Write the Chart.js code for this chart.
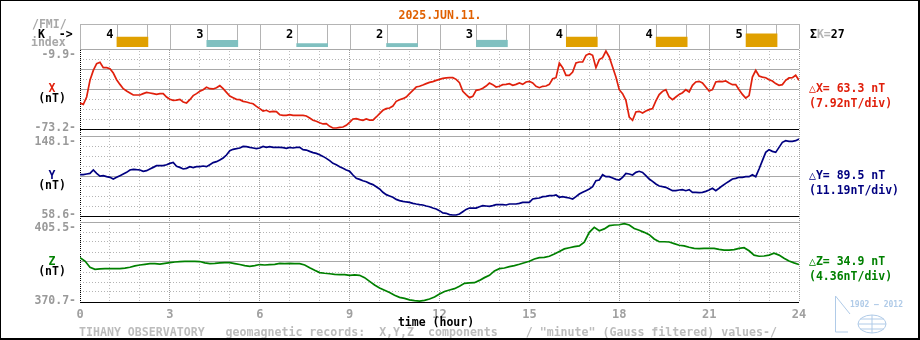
<!DOCTYPE html>
<html>
<head>
<meta charset="utf-8">
<script src="https://cdn.jsdelivr.net/npm/chart.js@4.4.1/dist/chart.umd.min.js"></script>
<style>
html,body{margin:0;padding:0;background:#fff;}
canvas{display:block;}
</style>
</head>
<body>
<canvas id="c" width="920" height="340"></canvas>
<script>
// ---------------- data ----------------
const DATE_TITLE = '2025.JUN.11.';
const K_INDEX = [4, 3, 2, 2, 3, 4, 4, 5];
const K_START_HOURS = [0, 3, 6, 9, 12, 15, 18, 21];
const HOUR_TICKS = [0, 3, 6, 9, 12, 15, 18, 21, 24];

const X_RANGE = [-73.2, -9.9];
const Y_RANGE = [58.6, 148.1];
const Z_RANGE = [370.7, 405.5];

const X_VALUES = [
-52.6,-53.7,-47.9,-34.7,-26.8,-21.5,-20.4,-24.7,-24.7,-25.5,
-28.9,-34.2,-37.9,-41.3,-43.1,-44.7,-46.3,-46.3,-46.3,-45.2,
-44.2,-44.7,-45.2,-45.8,-45.2,-45.2,-47.9,-49.7,-50.5,-50.3,
-49.7,-51.8,-52.6,-50.0,-46.8,-45.2,-43.4,-42.1,-40.2,-41.3,
-41.5,-40.5,-38.9,-41.3,-44.2,-47.1,-48.4,-49.7,-50.0,-51.3,
-51.8,-52.6,-53.2,-55.3,-57.1,-59.0,-58.4,-59.7,-59.2,-59.5,
-61.9,-62.4,-62.4,-61.9,-62.4,-62.4,-62.4,-62.4,-62.9,-64.5,
-66.3,-67.1,-68.2,-69.2,-69.0,-71.1,-72.4,-72.4,-71.9,-71.6,
-70.3,-67.9,-65.3,-65.0,-65.8,-66.3,-65.3,-66.1,-66.1,-63.7,
-61.1,-58.4,-57.1,-56.6,-55.0,-51.3,-50.0,-49.2,-47.9,-45.2,
-42.6,-40.0,-39.4,-38.4,-37.3,-36.3,-35.7,-34.7,-33.9,
-33.1,-32.8,-32.6,-32.6,-33.9,-36.5,-43.4,-46.0,-48.4,-47.4,
-42.6,-42.1,-41.0,-39.2,-36.8,-38.1,-40.0,-39.4,-38.1,-37.9,
-37.3,-38.6,-37.9,-36.8,-37.9,-36.0,-35.5,-36.8,-39.4,-40.5,
-39.4,-39.2,-37.9,-33.4,-32.6,-21.0,-24.7,-30.7,-30.7,-28.1,
-21.0,-20.2,-20.2,-14.9,-13.6,-14.9,-24.7,-18.3,-16.8,-11.5,
-16.2,-24.1,-32.1,-42.1,-45.2,-50.5,-63.7,-66.3,-59.7,-59.2,
-60.5,-59.0,-57.9,-57.1,-51.0,-46.0,-43.4,-42.1,-47.9,-50.0,
-47.9,-45.8,-44.5,-42.1,-43.9,-38.6,-36.0,-35.5,-36.8,-40.0,
-43.1,-42.1,-36.0,-35.5,-35.7,-35.2,-36.8,-38.1,-38.1,-42.1,
-45.8,-48.7,-46.8,-32.1,-26.8,-31.3,-32.1,-32.6,-34.2,-35.2,
-37.3,-38.6,-38.1,-34.7,-32.8,-32.6,-30.7,-34.7
];

const Y_VALUES = [
104.8,104.8,105.6,106.3,110.1,106.3,103.3,103.7,102.6,101.9,
100.0,101.9,103.7,105.6,107.4,110.1,110.8,110.4,110.1,108.6,
109.3,111.2,113.0,114.9,114.9,114.9,116.0,117.5,118.6,114.2,
113.0,111.2,111.9,113.8,112.7,113.8,113.8,114.5,113.8,116.0,
118.3,119.4,121.2,123.5,126.8,131.7,133.2,133.9,134.7,136.5,
136.2,135.4,134.7,133.9,134.7,136.5,135.4,136.2,135.4,135.4,
135.4,135.0,134.3,135.4,134.7,135.4,135.4,132.8,132.4,130.9,
129.5,128.7,127.2,125.3,123.1,120.5,117.5,116.0,113.8,111.9,
110.1,108.6,104.5,100.7,99.6,98.1,97.0,95.1,93.7,91.4,
88.8,85.1,82.5,81.0,79.5,77.2,75.8,75.0,74.3,73.9,
72.8,72.0,71.3,70.9,69.8,69.0,67.5,66.4,64.6,
62.0,61.6,60.1,59.7,59.7,60.8,63.4,66.0,67.5,67.5,
67.5,69.0,70.2,69.8,69.4,70.2,71.3,71.3,71.3,70.9,
72.0,72.0,72.0,72.8,73.9,73.9,73.9,77.6,78.4,78.7,
80.2,80.6,81.3,81.3,82.1,79.5,80.2,79.5,78.7,77.6,
80.2,83.2,85.1,86.9,88.8,91.4,98.1,98.9,104.8,102.6,
102.6,101.1,99.6,98.9,101.9,106.3,105.6,104.5,107.4,108.6,
107.4,103.7,100.0,97.4,94.4,92.2,91.4,90.7,88.8,86.9,
86.9,87.7,88.1,86.9,88.1,85.1,85.1,84.7,85.1,86.2,
87.7,89.6,86.9,89.6,92.5,95.1,97.4,100.0,100.7,101.9,
101.9,102.6,102.6,104.8,102.6,111.2,120.5,129.8,132.8,130.9,
129.8,135.4,141.0,142.9,142.1,142.1,142.9,144.7
];

const Z_VALUES = [
390.0,388.5,385.8,384.9,385.1,385.2,385.2,385.2,385.2,385.4,
385.8,386.4,386.8,387.1,387.4,387.4,387.2,387.5,387.8,388.1,
388.3,388.4,388.4,388.4,388.3,387.7,387.4,387.5,387.7,387.8,
387.8,387.4,387.0,386.5,386.2,386.5,387.0,386.8,387.0,387.1,
387.5,387.4,387.5,387.4,387.4,386.8,385.6,384.5,383.5,383.2,
383.0,382.7,382.6,382.6,382.3,382.5,382.3,381.3,379.7,378.1,
376.8,375.8,374.8,373.6,372.7,372.3,371.6,371.3,371.1,371.4,
372.0,372.9,374.2,375.3,375.9,376.5,377.6,378.8,379.0,379.1,
380.1,381.3,382.3,384.2,385.2,385.5,386.1,386.5,387.1,387.8,
388.4,389.4,390.0,390.1,390.6,391.6,392.7,393.8,394.3,394.8,
395.1,396.7,401.0,403.2,401.7,402.5,403.9,404.2,404.3,404.8,
404.2,402.7,401.9,401.0,400.0,398.1,396.9,396.9,396.8,396.1,
395.4,395.1,394.5,394.0,393.9,394.0,394.0,394.0,393.6,393.3,
393.3,393.5,394.0,394.3,393.0,391.1,390.6,390.7,391.1,391.9,
391.1,389.7,388.5,387.7,387.0
];

// sampling times (hours) of the series
const XY_HOURS = X_VALUES.map((_, i) => i / 9);
const Z_HOURS = Z_VALUES.map((_, i) => i / 6);

const PANEL_LETTERS = ['X', 'Y', 'Z'];
const PANEL_DELTA = ['\u25b3X= 63.3 nT', '\u25b3Y= 89.5 nT', '\u25b3Z= 34.9 nT'];
const PANEL_DIV = ['(7.92nT/div)', '(11.19nT/div)', '(4.36nT/div)'];
const FOOTER = 'TIHANY OBSERVATORY   geomagnetic records:  X,Y,Z  components    / "minute" (Gauss filtered) values-/';

// ---------------- styles ----------------
const FONT = '"DejaVu Sans Mono", "Liberation Mono", monospace';
const COL_X = '#e0200c', COL_Y = '#000080', COL_Z = '#008000';
const COL_KHI = '#e0a000', COL_KLO = '#80c0c0';
const PANEL_COLORS = [COL_X, COL_Y, COL_Z];

function divisionTicks(scale) {
  const t = [];
  for (let i = 0; i <= 8; i++) t.push({ value: scale.min + (scale.max - scale.min) * i / 8 });
  scale.ticks = t;
}

function panelAxis(range, stackWeight, weight, extraSolid) {
  const solid = i => i === 0 || i === 8 || i === 4 || extraSolid.includes(i);
  return {
    type: 'linear', position: 'left', stack: 'panels', stackWeight, weight,
    min: range[0], max: range[1], bounds: 'data', beginAtZero: false,
    afterFit: s => { s.width = 80; },
    afterBuildTicks: divisionTicks,
    grid: {
      drawTicks: false,
      color: c => c.type !== 'tick' ? '#a8a8a8' : c.index === 0 ? '#000000' : solid(c.index) ? '#a8a8a8' : '#b4b4b4',
      lineWidth: 1
    },
    border: {
      display: false,
      dash: c => (c.type === 'tick' && !solid(c.index)) ? [1, 2] : []
    },
    ticks: {
      autoSkip: false, padding: 4, color: '#9a9a9a',
      font: c => ({ family: FONT, size: 11.5, weight: 'bold', lineHeight: c.index === 0 ? '2px' : '12px' }),
      callback: (v, i, t) => i === t.length - 1 ? ['', v.toFixed(1) + '-'] : i === 0 ? [v.toFixed(1) + '-', ''] : ''
    }
  };
}

function gapAxis(stackWeight, weight) {
  return { type: 'linear', position: 'left', stack: 'panels', stackWeight, weight, display: false,
           afterFit: s => { s.width = 80; } };
}

const textPlugin = {
  id: 'magnetogram',
  beforeDraw(chart) {
    const c = chart.ctx;
    c.save();
    c.fillStyle = '#ffffff';
    c.fillRect(0, 0, chart.width, chart.height);
    c.restore();
  },
  beforeDatasetsDraw(chart) {
    const c = chart.ctx, a = chart.chartArea, x = chart.scales.x, yK = chart.scales.yK;
    const top = Math.round(yK.top), bot = Math.round(yK.bottom);
    c.save();
    c.fillStyle = '#ffffff';
    c.fillRect(a.left, top, a.right - a.left + 2, bot - top);
    c.strokeStyle = '#b4b4b4';
    c.lineWidth = 1;
    c.beginPath();
    c.moveTo(a.left, top + 0.5); c.lineTo(a.right + 1, top + 0.5);
    K_START_HOURS.concat([24]).forEach(h => {
      const px = Math.round(x.getPixelForValue(h)) + 0.5;
      c.moveTo(px, top); c.lineTo(px, bot);
    });
    const meta = chart.getDatasetMeta(3);
    meta.data.forEach(bar => {
      const p = bar.getProps(['x', 'width'], true);
      const l = Math.round(p.x - p.width / 2) + 0.5, r = Math.round(p.x + p.width / 2) - 0.5;
      c.moveTo(l, top); c.lineTo(l, bot - 2);
      c.moveTo(r, top); c.lineTo(r, bot - 2);
    });
    c.stroke();
    c.font = 'bold 12px ' + FONT;
    c.fillStyle = '#000000';
    c.textAlign = 'center';
    c.textBaseline = 'middle';
    K_INDEX.forEach((k, i) => c.fillText(String(k), x.getPixelForValue(K_START_HOURS[i] + 1), top + 11));
    c.restore();
  },
  afterDraw(chart) {
    const c = chart.ctx, a = chart.chartArea;
    const T = (s, px, py, col, align, size) => {
      c.font = 'bold ' + (size || 11.5) + 'px ' + FONT;
      c.fillStyle = col; c.textAlign = align || 'left'; c.textBaseline = 'middle';
      c.fillText(s, px, py);
      return c.measureText(s).width;
    };
    c.save();
    // title and K legend
    T(DATE_TITLE, 440, 16, '#e06000', 'center');
    T('/FMI/', 32, 25, '#a8a8a8');
    T('K  ->', 38, 35, '#000000');
    T('index', 31, 43, '#a8a8a8');
    let sx = a.right + 11;
    sx += T('\u03a3', sx, 35, '#000000');
    sx += T('K=', sx, 35, '#b4b4b4');
    T(String(K_INDEX.reduce((s, k) => s + k, 0)), sx, 35, '#000000');
    // panel labels
    ['yX', 'yY', 'yZ'].forEach((id, i) => {
      const s = chart.scales[id];
      const mid = Math.round((s.top + s.bottom) / 2);
      T(PANEL_LETTERS[i], 52, mid, PANEL_COLORS[i], 'center');
      T('(nT)', 52, mid + 10, '#000000', 'center');
      T(PANEL_DELTA[i], a.right + 10, mid, PANEL_COLORS[i]);
      T(PANEL_DIV[i], a.right + 10, mid + 15, PANEL_COLORS[i]);
    });
    // axis title and footer
    T('time (hour)', 436, 323, '#000000', 'center');
    T(FOOTER, 79, 333, '#bcbcbc', 'left', 11.6);
    // logo
    c.strokeStyle = '#b0cbe8'; c.lineWidth = 1;
    T('1902 \u2014 2012', 850, 305, '#b0cbe8', 'left', 8);
    c.beginPath();
    c.moveTo(835.5, 296); c.lineTo(835.5, 332); c.lineTo(848, 332);
    c.moveTo(835.5, 296); c.lineTo(850, 314);
    c.stroke();
    c.beginPath(); c.ellipse(872, 324, 14, 9, 0, 0, Math.PI * 2); c.stroke();
    c.beginPath();
    c.moveTo(858, 324); c.lineTo(886, 324);
    c.moveTo(860, 319); c.lineTo(884, 319);
    c.moveTo(860, 329); c.lineTo(884, 329);
    c.moveTo(872, 315); c.lineTo(872, 333);
    c.stroke();
    // outer frame
    c.fillStyle = '#000000';
    c.fillRect(0, 0, 920, 1);
    c.fillRect(0, 0, 1, 340);
    c.fillRect(918, 0, 2, 340);
    c.fillRect(0, 338, 920, 2);
    c.restore();
  }
};

const lineStyle = (color, axis) => ({
  type: 'line', yAxisID: axis, borderColor: color, borderWidth: 1.7,
  pointRadius: 0, tension: 0, fill: false
});

new Chart(document.getElementById('c'), {
  type: 'line',
  data: {
    datasets: [
      Object.assign(lineStyle(COL_X, 'yX'), { label: 'X', data: XY_HOURS.map((h, i) => ({ x: h, y: X_VALUES[i] })) }),
      Object.assign(lineStyle(COL_Y, 'yY'), { label: 'Y', data: XY_HOURS.map((h, i) => ({ x: h, y: Y_VALUES[i] })) }),
      Object.assign(lineStyle(COL_Z, 'yZ'), { label: 'Z', data: Z_HOURS.map((h, i) => ({ x: h, y: Z_VALUES[i] })) }),
      {
        type: 'bar', label: 'K', yAxisID: 'yK', base: 1, barThickness: 31, borderWidth: 0,
        data: K_INDEX.map((k, i) => ({ x: K_START_HOURS[i] + 1.75, y: k })),
        backgroundColor: K_INDEX.map(k => k >= 4 ? COL_KHI : COL_KLO)
      }
    ]
  },
  options: {
    responsive: false, animation: false, devicePixelRatio: 1, events: [],
    layout: { padding: { top: 24, right: 121, bottom: 0, left: 0 } },
    plugins: { legend: { display: false }, tooltip: { enabled: false }, title: { display: false } },
    scales: {
      x: {
        type: 'linear', position: 'bottom', min: 0, max: 24, offset: false, bounds: 'data',
        afterFit: s => { s.height = 38; },
        afterBuildTicks: s => { const t = []; for (let h = 0; h <= 24; h++) t.push({ value: h }); s.ticks = t; },
        grid: {
          offset: false, drawTicks: false,
          color: c => c.type !== 'tick' ? '#a0a0a0' : c.tick.value === 0 ? '#000000' : c.tick.value % 3 === 0 ? '#9c9c9c' : '#bcbcbc'
        },
        border: { display: false, dash: c => c.type === 'tick' ? (c.tick.value % 3 === 0 ? [1, 1] : [1, 2]) : [] },
        ticks: {
          autoSkip: false, maxRotation: 0, minRotation: 0, padding: 6, color: '#a0a0a0',
          font: { family: FONT, size: 12, weight: 'bold' },
          callback: v => HOUR_TICKS.includes(v) ? String(v) : ''
        }
      },
      yK: { type: 'linear', position: 'left', stack: 'panels', stackWeight: 25, weight: 6, display: false,
            min: 0.3, max: 8, beginAtZero: false, bounds: 'data', afterFit: s => { s.width = 80; } },
      yX: panelAxis(X_RANGE, 80, 5, [6]),
      g1: gapAxis(7, 4),
      yY: panelAxis(Y_RANGE, 80, 3, []),
      g2: gapAxis(6, 2),
      yZ: panelAxis(Z_RANGE, 80, 1, [])
    }
  },
  plugins: [textPlugin]
});
</script>
</body>
</html>
